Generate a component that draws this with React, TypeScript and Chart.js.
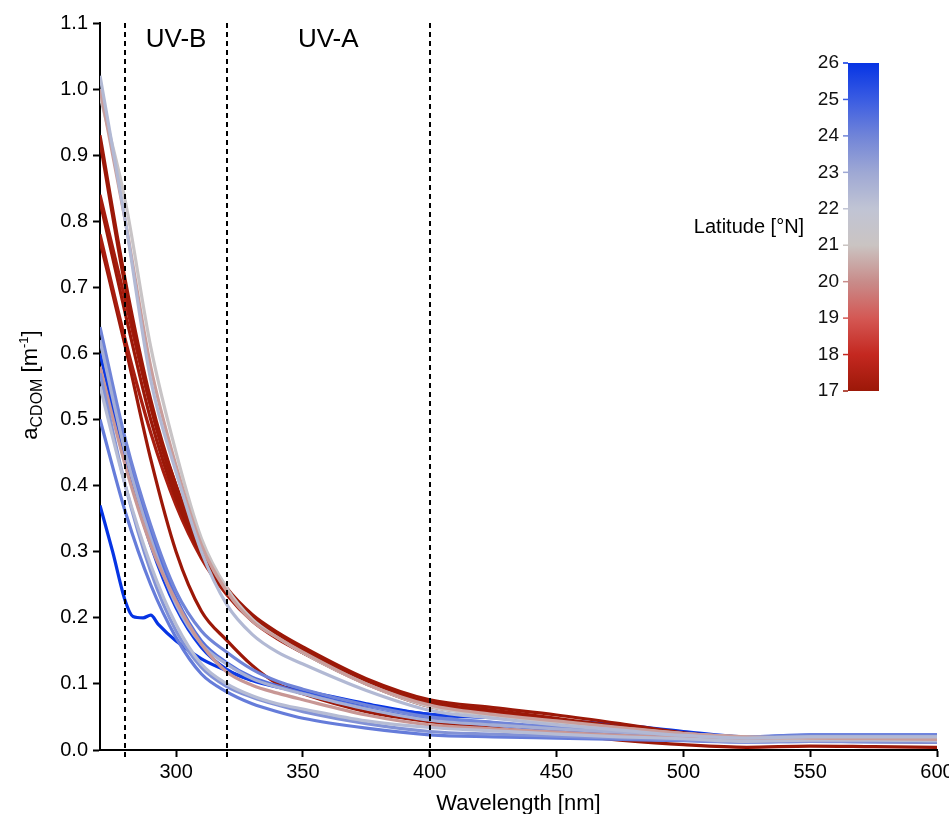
import React, { useEffect, useRef } from "react";
import { Chart, registerables } from "chart.js";

Chart.register(...registerables);

// ---------- data ----------
const wavelengths = [270, 280, 290, 300, 310, 320, 330, 340, 350, 375, 400, 425, 450, 475, 500, 525, 550, 575, 600];
const dipWavelengths = [270, 275, 280, 283, 287, 290, 293, 300, 310, 320, 330, 340, 350, 375, 400, 425, 450, 475, 500, 525, 550, 575, 600];

const xTickValues = [300, 350, 400, 450, 500, 550, 600];
const yTickValues = [0, 0.1, 0.2, 0.3, 0.4, 0.5, 0.6, 0.7, 0.8, 0.9, 1.0, 1.1];
const latitudeTicks = [17, 18, 19, 20, 21, 22, 23, 24, 25, 26];
const bandEdges = [280, 320, 400];
const bandLabels = [
  { text: "UV-B", at: 300 },
  { text: "UV-A", at: 360 },
];

// upper bundle
const u1 = [1.02, 0.8, 0.56, 0.42, 0.3, 0.22, 0.175, 0.148, 0.13, 0.09, 0.06, 0.048, 0.038, 0.03, 0.022, 0.018, 0.02, 0.02, 0.02];
const u2 = [1.0, 0.8, 0.58, 0.43, 0.31, 0.24, 0.195, 0.17, 0.148, 0.1, 0.068, 0.054, 0.044, 0.034, 0.025, 0.02, 0.018, 0.017, 0.016];
const u3 = [0.99, 0.83, 0.61, 0.45, 0.32, 0.245, 0.198, 0.17, 0.147, 0.1, 0.066, 0.052, 0.042, 0.033, 0.025, 0.02, 0.018, 0.017, 0.016];
const r1 = [0.93, 0.71, 0.53, 0.4, 0.305, 0.245, 0.205, 0.178, 0.156, 0.108, 0.076, 0.064, 0.053, 0.04, 0.026, 0.02, 0.02, 0.02, 0.02];
const r2 = [0.92, 0.7, 0.52, 0.39, 0.3, 0.24, 0.2, 0.174, 0.152, 0.104, 0.072, 0.06, 0.048, 0.035, 0.025, 0.018, 0.017, 0.016, 0.016];
const r3 = [0.84, 0.68, 0.52, 0.4, 0.305, 0.242, 0.2, 0.172, 0.15, 0.104, 0.07, 0.058, 0.045, 0.035, 0.025, 0.02, 0.02, 0.018, 0.018];
const r4 = [0.83, 0.66, 0.5, 0.38, 0.295, 0.237, 0.196, 0.17, 0.147, 0.1, 0.066, 0.054, 0.042, 0.032, 0.022, 0.015, 0.014, 0.013, 0.012];
const r5 = [0.78, 0.62, 0.48, 0.37, 0.29, 0.235, 0.195, 0.168, 0.147, 0.102, 0.07, 0.057, 0.045, 0.035, 0.025, 0.018, 0.018, 0.017, 0.017];
const r6 = [0.77, 0.61, 0.44, 0.3, 0.21, 0.166, 0.128, 0.1, 0.085, 0.058, 0.043, 0.033, 0.024, 0.015, 0.008, 0.004, 0.006, 0.005, 0.004];
// lower bundle
const l1 = [0.64, 0.47, 0.34, 0.24, 0.18, 0.148, 0.122, 0.104, 0.092, 0.068, 0.05, 0.042, 0.035, 0.03, 0.025, 0.02, 0.022, 0.022, 0.022];
const l2 = [0.6, 0.44, 0.31, 0.215, 0.155, 0.122, 0.105, 0.095, 0.088, 0.068, 0.054, 0.049, 0.045, 0.036, 0.026, 0.018, 0.022, 0.022, 0.022];
const l3 = [0.58, 0.43, 0.31, 0.225, 0.16, 0.118, 0.098, 0.086, 0.076, 0.053, 0.038, 0.032, 0.027, 0.022, 0.018, 0.015, 0.015, 0.014, 0.013];
const l4 = [0.62, 0.45, 0.32, 0.22, 0.16, 0.13, 0.108, 0.095, 0.085, 0.062, 0.045, 0.038, 0.032, 0.027, 0.022, 0.018, 0.02, 0.02, 0.02];
const l5 = [0.55, 0.4, 0.28, 0.19, 0.13, 0.1, 0.082, 0.07, 0.062, 0.044, 0.034, 0.029, 0.024, 0.02, 0.017, 0.013, 0.015, 0.015, 0.014];
const l6 = [0.5, 0.36, 0.25, 0.17, 0.115, 0.088, 0.07, 0.058, 0.048, 0.033, 0.023, 0.02, 0.018, 0.016, 0.014, 0.012, 0.013, 0.013, 0.012];
const l7 = [0.57, 0.4, 0.27, 0.18, 0.125, 0.096, 0.08, 0.068, 0.058, 0.04, 0.028, 0.024, 0.021, 0.018, 0.015, 0.012, 0.013, 0.012, 0.012];
const l9 = [0.62, 0.46, 0.33, 0.23, 0.165, 0.132, 0.11, 0.097, 0.086, 0.063, 0.046, 0.038, 0.03, 0.025, 0.02, 0.02, 0.023, 0.023, 0.023];
const dip = [0.37, 0.3, 0.225, 0.202, 0.2, 0.204, 0.19, 0.165, 0.138, 0.12, 0.106, 0.097, 0.09, 0.07, 0.054, 0.05, 0.045, 0.038, 0.028, 0.02, 0.021, 0.021, 0.021];

const series = [
  { lat: 22.4, x: wavelengths, y: u1 },
  { lat: 20.3, x: wavelengths, y: u2 },
  { lat: 21.2, x: wavelengths, y: u3 },
  { lat: 22.3, x: wavelengths, y: l5 },
  { lat: 23.6, x: wavelengths, y: l7 },
  { lat: 20.2, x: wavelengths, y: l3 },
  { lat: 22.8, x: wavelengths, y: l4 },
  { lat: 24.0, x: wavelengths, y: l1 },
  { lat: 24.5, x: wavelengths, y: l9 },
  { lat: 24.2, x: wavelengths, y: l6 },
  { lat: 17.0, x: wavelengths, y: r1 },
  { lat: 17.0, x: wavelengths, y: r2 },
  { lat: 17.2, x: wavelengths, y: r3 },
  { lat: 17.0, x: wavelengths, y: r4 },
  { lat: 17.3, x: wavelengths, y: r5 },
  { lat: 17.0, x: wavelengths, y: r6 },
  { lat: 25.8, x: wavelengths, y: l2 },
  { lat: 26.0, x: dipWavelengths, y: dip },
];

// ---------- styles ----------
const FONT = "'Liberation Sans', Arial, Helvetica, sans-serif";
const colorStops: [number, number[]][] = [
  [17, [156, 24, 8]],
  [18, [196, 40, 32]],
  [19, [212, 88, 84]],
  [20, [200, 140, 138]],
  [21, [202, 196, 194]],
  [22, [192, 196, 212]],
  [23, [158, 168, 212]],
  [24, [112, 132, 216]],
  [25, [58, 92, 226]],
  [26, [6, 52, 228]],
];

function latColor(lat: number): string {
  if (lat <= colorStops[0][0]) return `rgb(${colorStops[0][1].join(",")})`;
  for (let i = 1; i < colorStops.length; i++) {
    const [l1v, c1] = colorStops[i - 1];
    const [l2v, c2] = colorStops[i];
    if (lat <= l2v) {
      const t = (lat - l1v) / (l2v - l1v);
      const c = c1.map((v, k) => Math.round(v + (c2[k] - v) * t));
      return `rgb(${c.join(",")})`;
    }
  }
  return `rgb(${colorStops[colorStops.length - 1][1].join(",")})`;
}

const overlayPlugin = {
  id: "overlay",
  afterDatasetsDraw(chart: any) {
    const { ctx, chartArea, scales } = chart;
    const xs = scales.x;
    ctx.save();
    ctx.strokeStyle = "#000";
    ctx.lineWidth = 2;
    ctx.setLineDash([5, 4]);
    for (const w of bandEdges) {
      const px = Math.round(xs.getPixelForValue(w));
      ctx.beginPath();
      ctx.moveTo(px, chartArea.top);
      ctx.lineTo(px, chartArea.bottom + 7);
      ctx.stroke();
    }
    ctx.setLineDash([]);
    ctx.fillStyle = "#000";
    ctx.font = `26px ${FONT}`;
    ctx.textAlign = "center";
    ctx.textBaseline = "alphabetic";
    for (const b of bandLabels) {
      ctx.fillText(b.text, xs.getPixelForValue(b.at), 47);
    }
    ctx.restore();
  },
  afterDraw(chart: any) {
    const { ctx, chartArea } = chart;
    ctx.save();
    ctx.fillStyle = "#000";
    ctx.font = `22px ${FONT}`;
    ctx.textAlign = "center";
    ctx.textBaseline = "alphabetic";
    ctx.fillText("Wavelength [nm]", (chartArea.left + chartArea.right) / 2, 810);

    ctx.translate(37, 385);
    ctx.rotate(-Math.PI / 2);
    const parts = [
      { t: "a", size: 22, dy: 0 },
      { t: "CDOM", size: 16, dy: 5 },
      { t: " [m", size: 22, dy: 0 },
      { t: "-1", size: 13, dy: -9 },
      { t: "]", size: 22, dy: 0 },
    ];
    let total = 0;
    for (const p of parts) {
      ctx.font = `${p.size}px ${FONT}`;
      total += ctx.measureText(p.t).width;
    }
    let cx = -total / 2;
    ctx.textAlign = "left";
    for (const p of parts) {
      ctx.font = `${p.size}px ${FONT}`;
      ctx.fillText(p.t, cx, p.dy);
      cx += ctx.measureText(p.t).width;
    }
    ctx.restore();

    // colorbar
    ctx.save();
    const cbL = 848, cbR = 879, cbT = 63, cbB = 391;
    const minLat = latitudeTicks[0];
    const maxLat = latitudeTicks[latitudeTicks.length - 1];
    const grad = ctx.createLinearGradient(0, cbB, 0, cbT);
    for (let i = 0; i <= 36; i++) {
      const lat = minLat + ((maxLat - minLat) * i) / 36;
      grad.addColorStop(i / 36, latColor(lat));
    }
    ctx.fillStyle = grad;
    ctx.fillRect(cbL, cbT, cbR - cbL, cbB - cbT);
    ctx.font = `19px ${FONT}`;
    ctx.textAlign = "right";
    ctx.textBaseline = "middle";
    for (const lat of latitudeTicks) {
      const y = cbB - ((lat - minLat) / (maxLat - minLat)) * (cbB - cbT);
      ctx.strokeStyle = latColor(lat);
      ctx.lineWidth = 1.5;
      ctx.beginPath();
      ctx.moveTo(cbL - 5, y);
      ctx.lineTo(cbL, y);
      ctx.stroke();
      ctx.fillStyle = "#111";
      ctx.fillText(String(lat), cbL - 9, y);
    }
    ctx.font = `20px ${FONT}`;
    ctx.textAlign = "center";
    ctx.fillStyle = "#000";
    ctx.fillText("Latitude [°N]", 749, 227);
    ctx.restore();
  },
};

export default function App() {
  const ref = useRef<HTMLCanvasElement | null>(null);
  useEffect(() => {
    if (!ref.current) return;
    const chart = new Chart(ref.current, {
      type: "line",
      data: {
        datasets: series.map((s) => ({
          data: s.x.map((w, i) => ({ x: w, y: s.y[i] })),
          borderColor: latColor(s.lat),
          borderWidth: 3.2,
          pointRadius: 0,
          cubicInterpolationMode: "monotone" as const,
          fill: false,
        })),
      },
      options: {
        animation: false,
        responsive: false,
        devicePixelRatio: 1,
        layout: { padding: { top: 23, right: 12, left: 0, bottom: 0 } },
        plugins: { legend: { display: false }, tooltip: { enabled: false } },
        scales: {
          x: {
            type: "linear",
            min: 270,
            max: 600,
            afterBuildTicks: (s: any) => {
              s.ticks = xTickValues.map((v) => ({ value: v }));
            },
            afterFit: (s: any) => {
              s.height = 64;
              s.paddingLeft = 0;
              s.paddingRight = 0;
            },
            border: { color: "#000", width: 2 },
            grid: { drawOnChartArea: false, tickLength: 7, tickWidth: 2, color: "#000" },
            ticks: { color: "#000", font: { size: 20, family: FONT }, padding: 3, maxRotation: 0, autoSkip: false },
          },
          y: {
            type: "linear",
            min: 0,
            max: 1.1,
            afterBuildTicks: (s: any) => {
              s.ticks = yTickValues.map((v) => ({ value: v }));
            },
            afterFit: (s: any) => {
              s.width = 100;
              s.paddingTop = 0;
              s.paddingBottom = 0;
            },
            border: { color: "#000", width: 2 },
            grid: { drawOnChartArea: false, tickLength: 7, tickWidth: 2, color: "#000" },
            ticks: {
              color: "#000",
              font: { size: 20, family: FONT },
              padding: 5,
              autoSkip: false,
              callback: (v: any) => Number(v).toFixed(1),
            },
          },
        },
      },
      plugins: [overlayPlugin],
    });
    return () => chart.destroy();
  }, []);
  return (
    <canvas
      ref={ref}
      width={949}
      height={814}
      style={{ position: "fixed", left: 0, top: 0, width: 949, height: 814, display: "block" }}
    />
  );
}
